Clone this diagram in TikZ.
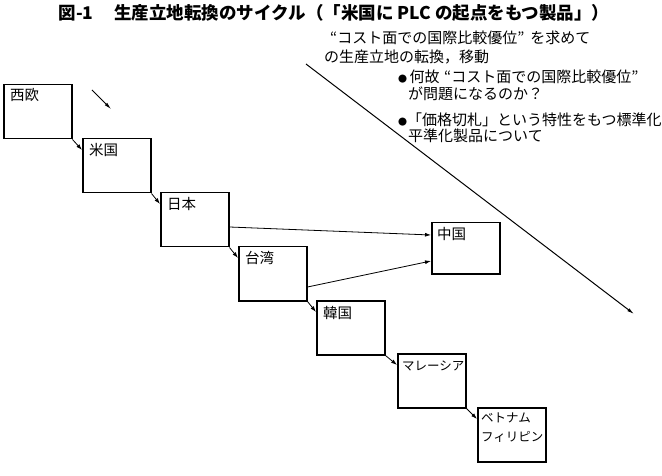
\documentclass[tikz,border=0pt]{standalone}
\usepackage{fontspec}
\setmainfont{Noto Sans CJK JP}
\newfontfamily\jpfont{Noto Sans CJK JP}
\usetikzlibrary{arrows.meta,calc}
\newcommand{\smalldot}{{\fontsize{9}{9}\selectfont ●}}
\begin{document}
\begin{tikzpicture}[x=1pt,y=-1pt,
  country/.style={draw, line width=1.5pt, anchor=north west, inner sep=0pt,
    minimum width=68pt, minimum height=54pt},
  ctext/.style={anchor=north west, inner sep=0pt, font=\jpfont\fontsize{14.5}{16}\selectfont, align=left},
  note/.style={anchor=west, inner sep=0pt, font=\jpfont\fontsize{15}{17}\selectfont},
  link/.style={line width=0.8pt, -{Latex[length=6pt,width=4pt]}},
  flow/.style={line width=0.8pt, -{Latex[length=7pt,width=3.5pt]}}]
\useasboundingbox (0,0) rectangle (662,476);

% title
\node[inner sep=0pt, font=\jpfont\bfseries\fontsize{17.5}{19}\selectfont] (title) at (334,13)
  {図-1\hspace{1.2em}生産立地転換のサイクル（「米国に PLC の起点をもつ製品」）};

% explanatory notes
\node[note] (n1) at (330,38) {“コスト面での国際比較優位”\hspace{0.4em}を求めて};
\node[note] (n2) at (324,57) {の生産立地の転換，移動};
\node[note] (n3) at (398,77) {\smalldot\,何故\hspace{0.3em}“コスト面での国際比較優位”};
\node[note] (n4) at (408,94) {が問題になるのか？};
\node[note] (n5) at (398,120) {\smalldot「価格切札」という特性をもつ標準化};
\node[note] (n6) at (408,136) {平準化製品について};

% country boxes
\node[country] (eu) at (3,84) {};
\node[country] (us) at (82,138) {};
\node[country] (jp) at (160,192) {};
\node[country] (tw) at (238,246) {};
\node[country, minimum height=51pt] (cn) at (431,222) {};
\node[country] (kr) at (316,300) {};
\node[country] (my) at (397,353) {};
\node[country] (vn) at (477,407) {};

\node[ctext] (teu) at ($(eu.north west)+(7,4)$) {西欧};
\node[ctext] (tus) at ($(us.north west)+(7,5)$) {米国};
\node[ctext] (tjp) at ($(jp.north west)+(7,5)$) {日本};
\node[ctext] (ttw) at ($(tw.north west)+(7,5)$) {台湾};
\node[ctext] (tcn) at ($(cn.north west)+(6,5)$) {中国};
\node[ctext] (tkr) at ($(kr.north west)+(7,6)$) {韓国};
\node[ctext, font=\jpfont\fontsize{12.5}{14}\selectfont] (tmy) at ($(my.north west)+(5,8)$) {マレーシア};
\node[ctext, font=\jpfont\fontsize{12.5}{19}\selectfont] (tvn) at ($(vn.north west)+(4,6)$) {ベトナム\\フィリピン};

% moves from one country to the next
\draw[link] (eu.south east) -- ($(us.north west)+(0,12)$);
\draw[link] (us.south east) -- ($(jp.north west)+(0,12)$);
\draw[link] (jp.south east) -- ($(tw.north west)+(0,12)$);
\draw[link] (tw.south east) -- ($(kr.north west)+(0,12)$);
\draw[link] (kr.south east) -- ($(my.north west)+(0,12)$);
\draw[link] (my.south east) -- ($(vn.north west)+(0,12)$);

% moves towards China
\draw[link] ($(jp.north east)+(0,35)$) -- ($(cn.north west)+(0,13)$);
\draw[link] ($(tw.north east)+(0,41)$) -- ($(cn.north west)+(0,39)$);

% direction of the cycle
\coordinate (s1) at (92,90);
\coordinate (e1) at (111,109);
\draw[flow] (s1) -- (e1);
\coordinate (s2) at (306,64);
\coordinate (e2) at (634,314);
\draw[flow, line width=1pt] (s2) -- (e2);
\end{tikzpicture}
\end{document}
